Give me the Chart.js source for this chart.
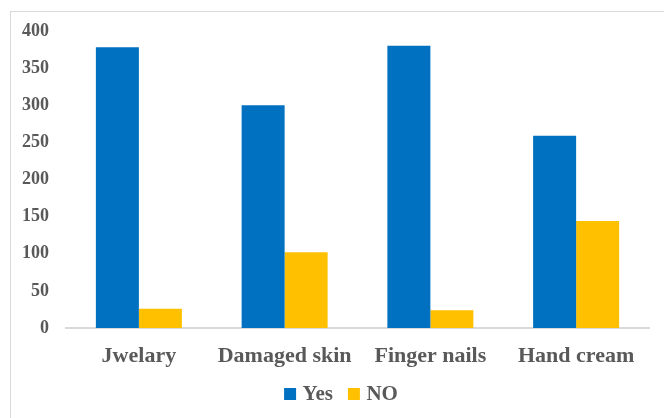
<!DOCTYPE html>
<html>
<head>
<meta charset="utf-8">
<script src="https://cdn.jsdelivr.net/npm/chart.js@4/dist/chart.umd.min.js"></script>
<style>
  html, body { margin: 0; padding: 0; background: #fff; overflow: hidden; }
  #wrap { position: relative; width: 664px; height: 418px; }
  #frame { position: absolute; left: 10px; top: 11px; width: 700px; height: 500px;
           border: 1px solid #d9d9d9; box-sizing: border-box; }
  canvas { position: absolute; left: 0; top: 0; }
</style>
</head>
<body>
<div id="wrap">
  <div id="frame"></div>
  <canvas id="c" width="664" height="418"></canvas>
</div>
<script>
const categories = ['Jwelary', 'Damaged skin', 'Finger nails', 'Hand cream'];
const yesValues = [378, 300, 380, 259];
const noValues = [26, 102, 24, 144];
const yTicks = [0, 50, 100, 150, 200, 250, 300, 350, 400];

const textColor = '#595959';
const serif = "'Liberation Serif', 'Times New Roman', serif";

// Compact legend row under the category labels: small square swatch,
// tight gap to the text, centred slightly right of the canvas middle.
const bottomLegend = {
  id: 'bottomLegend',
  afterDraw(chart) {
    const ctx = chart.ctx;
    const box = 12, gap = 6.5, spacing = 15;
    const centerX = 341, centerY = 394;
    ctx.save();
    ctx.font = 'bold 21px ' + serif;
    ctx.textBaseline = 'middle';
    const items = chart.data.datasets.map(ds => ({
      text: ds.label, color: ds.backgroundColor, w: ctx.measureText(ds.label).width
    }));
    const total = items.reduce((s, it) => s + box + gap + it.w, 0) + spacing * (items.length - 1);
    let x = centerX - total / 2;
    items.forEach(it => {
      ctx.fillStyle = it.color;
      ctx.fillRect(x, centerY - box / 2, box, box);
      ctx.fillStyle = textColor;
      ctx.fillText(it.text, x + box + gap, centerY + 1);
      x += box + gap + it.w + spacing;
    });
    ctx.restore();
  }
};

new Chart(document.getElementById('c'), {
  type: 'bar',
  data: {
    labels: categories,
    datasets: [
      { label: 'Yes', data: yesValues, backgroundColor: '#0070C0' },
      { label: 'NO', data: noValues, backgroundColor: '#FFC000' }
    ]
  },
  options: {
    responsive: false,
    animation: false,
    devicePixelRatio: 1,
    layout: { padding: { left: 0, right: 15, top: 31, bottom: 40 } },
    datasets: { bar: { categoryPercentage: 0.59, barPercentage: 1.0 } },
    plugins: {
      tooltip: { enabled: false },
      legend: { display: false }
    },
    scales: {
      x: {
        afterFit: (s) => { s.height = 50; },
        grid: { display: false, drawTicks: false },
        border: { display: true, color: '#d9d9d9', width: 2 },
        ticks: {
          color: textColor, padding: 15,
          font: { family: serif, size: 22, weight: 'bold' }
        }
      },
      y: {
        min: 0, max: 400,
        afterBuildTicks: (s) => { s.ticks = yTicks.map(v => ({ value: v })); },
        afterFit: (s) => { s.width = 66; },
        grid: { display: false, drawTicks: false },
        border: { display: false },
        ticks: {
          color: textColor, padding: 17,
          font: { family: serif, size: 18, weight: 'bold' }
        }
      }
    }
  },
  plugins: [bottomLegend]
});
</script>
</body>
</html>
